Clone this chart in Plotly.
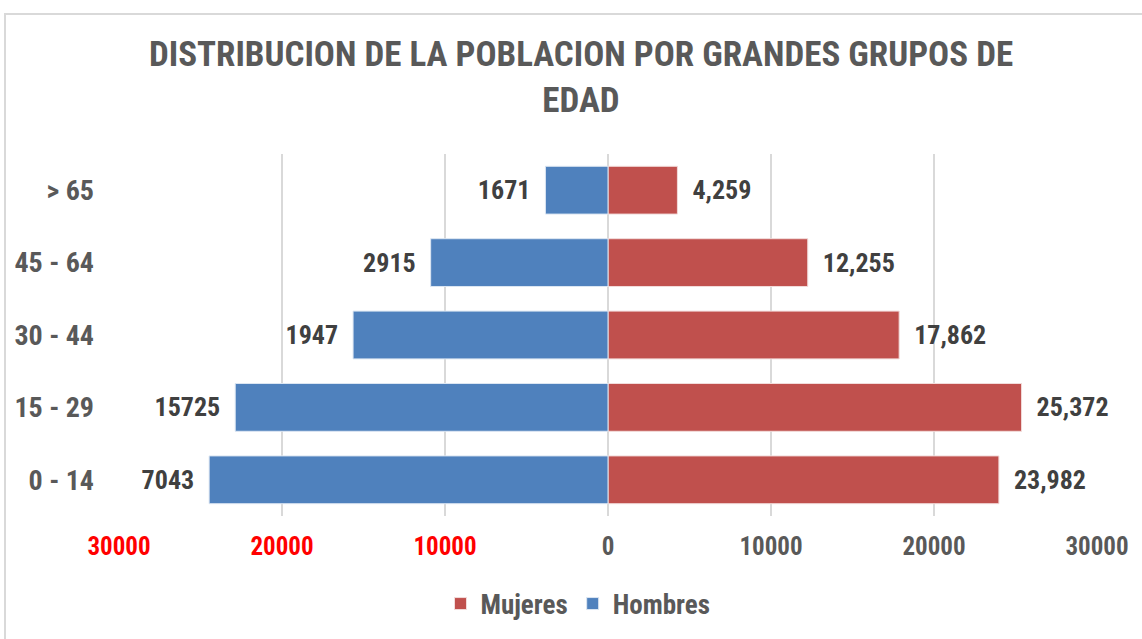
import plotly.graph_objects as go

categorias = ["0 - 14", "15 - 29", "30 - 44", "45 - 64", "> 65"]
mujeres = [23982, 25372, 17862, 12255, 4259]
hombres = [24470, 22870, 15640, 10880, 3840]
hombres_etiquetas = ["7043", "15725", "1947", "2915", "1671"]
tick_vals = [-30000, -20000, -10000, 0, 10000, 20000, 30000]
tick_text = ["30000", "20000", "10000", "0", "10000", "20000", "30000"]

FONT = "Roboto Condensed, Liberation Sans Narrow, Arial Narrow, sans-serif"

fig = go.Figure()
fig.add_trace(go.Bar(
    y=categorias, x=mujeres, orientation="h", name="Mujeres",
    marker=dict(color="#C0504D", line=dict(color="#F2DCDB", width=1)),
    text=["  " + f"{v:,}" for v in mujeres], textposition="outside",
    textfont=dict(family=FONT, size=26, color="#404040", weight="bold"),
    cliponaxis=False,
))
fig.add_trace(go.Bar(
    y=categorias, x=[-v for v in hombres], orientation="h", name="Hombres",
    marker=dict(color="#4F81BD", line=dict(color="#DCE6F2", width=1)),
    text=[t + "  " for t in hombres_etiquetas], textposition="outside",
    textfont=dict(family=FONT, size=26, color="#404040", weight="bold"),
    cliponaxis=False,
))

tick_colored = [
    (f'<span style="color:#FF0000">{t}</span>' if v < 0 else t)
    for v, t in zip(tick_vals, tick_text)
]

fig.update_layout(
    width=1142, height=639,
    barmode="relative", bargap=0.34,
    paper_bgcolor="white", plot_bgcolor="white",
    margin=dict(l=119, r=45, t=154, b=123),
    font=dict(family=FONT, color="#595959"),
    title=dict(
        text="DISTRIBUCION DE LA POBLACION POR GRANDES GRUPOS DE<br>EDAD",
        x=581 / 1142, xanchor="center", xref="container",
        y=1 - 66 / 639, yanchor="top", yref="container",
        font=dict(family=FONT, size=35, color="#595959", weight="bold"),
    ),
    xaxis=dict(
        range=[-30000, 30000], tickvals=tick_vals, ticktext=tick_colored,
        showgrid=True, gridcolor="#D9D9D9", gridwidth=1.5,
        zeroline=True, zerolinecolor="#D9D9D9", zerolinewidth=1.5,
        ticks="", ticklabelstandoff=13,
        tickfont=dict(family=FONT, size=25, color="#595959", weight="bold"),
        fixedrange=True,
    ),
    yaxis=dict(
        categoryorder="array", categoryarray=categorias,
        showgrid=False, ticks="", ticklabelstandoff=24,
        tickfont=dict(family=FONT, size=28, color="#595959", weight="bold"),
        fixedrange=True,
    ),
    legend=dict(
        orientation="h", x=578 / 1142, xanchor="center", xref="container",
        y=1 - 604 / 639, yanchor="middle", yref="container",
        font=dict(family=FONT, size=27, color="#595959", weight="bold"),
        traceorder="normal",
    ),
    shapes=[dict(
        type="rect", xref="paper", yref="paper",
        x0=(5 - 119) / 978, x1=1.2, y0=-0.6, y1=(516 - 14) / 362,
        line=dict(color="#D9D9D9", width=2), fillcolor="rgba(0,0,0,0)",
        layer="below",
    )],
)

fig.write_html("out.html", config={"displayModeBar": False},
               post_script="document.body.style.margin='0';")
